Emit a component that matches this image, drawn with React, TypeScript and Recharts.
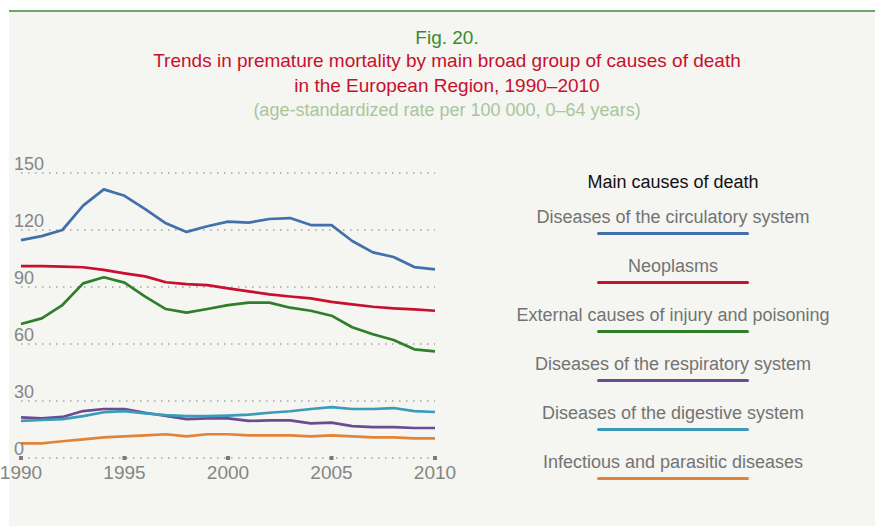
import { LineChart, Line, XAxis, YAxis, CartesianGrid, Legend } from 'recharts';

const years = [
  1990, 1991, 1992, 1993, 1994, 1995, 1996, 1997, 1998, 1999, 2000,
  2001, 2002, 2003, 2004, 2005, 2006, 2007, 2008, 2009, 2010,
];
const circulatory = [114.7, 116.8, 120, 132.8, 141.4, 138, 131, 123.5, 119, 122, 124.4, 123.9, 125.8, 126.3, 122.6, 122.6, 114.2, 108.2, 105.8, 100.5, 99.3];
const neoplasms = [101, 101, 100.7, 100.4, 99, 97.2, 95.6, 92.5, 91.5, 91, 89.3, 87.7, 86.1, 85, 84, 82.2, 80.9, 79.6, 78.8, 78.2, 77.5];
const external = [70.5, 73.5, 80.5, 91.9, 95.1, 92.3, 84.9, 78.4, 76.5, 78.4, 80.5, 81.8, 81.8, 79.1, 77.5, 74.9, 68.8, 65.1, 62.1, 57.2, 56.1];
const respiratory = [21.4, 20.9, 21.6, 24.7, 25.8, 25.8, 23.8, 22.1, 20.5, 20.9, 20.9, 19.5, 19.8, 19.8, 18.2, 18.6, 16.8, 16.3, 16.3, 15.8, 15.8];
const digestive = [19.5, 20, 20.5, 22, 24.1, 24.7, 23.5, 22.6, 22, 22, 22.3, 22.8, 23.8, 24.6, 25.8, 26.8, 25.8, 25.8, 26.3, 24.7, 24.2];
const infectious = [7.7, 7.7, 8.8, 9.8, 10.9, 11.4, 11.9, 12.5, 11.4, 12.5, 12.5, 11.9, 11.9, 11.9, 11.4, 11.9, 11.4, 10.9, 10.9, 10.3, 10.3];

const xTicks = [1990, 1995, 2000, 2005, 2010];
const yTicks = [0, 30, 60, 90, 120, 150];

const series = [
  { key: 'circulatory', label: 'Diseases of the circulatory system', color: '#4170ac', values: circulatory },
  { key: 'neoplasms', label: 'Neoplasms', color: '#c8102e', values: neoplasms },
  { key: 'external', label: 'External causes of injury and poisoning', color: '#2f7f2a', values: external },
  { key: 'respiratory', label: 'Diseases of the respiratory system', color: '#6b4c93', values: respiratory },
  { key: 'digestive', label: 'Diseases of the digestive system', color: '#3b9bb8', values: digestive },
  { key: 'infectious', label: 'Infectious and parasitic diseases', color: '#e1843a', values: infectious },
];

const rows = years.map((year, i) => {
  const row: Record<string, number> = { year };
  for (const s of series) row[s.key] = s.values[i];
  return row;
});

const FONT = "'Liberation Sans', Arial, sans-serif";
const GREY = '#858585';

function YTick({ x, y, payload }: any) {
  return (
    <text x={x - 7} y={y - 3} textAnchor="start" fontSize={18} fill={GREY} fontFamily={FONT}>
      {payload.value}
    </text>
  );
}

function XTick({ x, y, payload }: any) {
  return (
    <g>
      <rect x={x - 2} y={y - 2} width={4} height={4} fill="#7a7a7a" />
      <text x={x} y={y + 21} textAnchor="middle" fontSize={19} fill={GREY} fontFamily={FONT}>
        {payload.value}
      </text>
    </g>
  );
}

function CausesLegend() {
  return (
    <div style={{ width: 360, fontFamily: FONT, textAlign: 'center' }}>
      <div style={{ fontSize: 18, color: '#111', lineHeight: '22px', height: 35 }}>Main causes of death</div>
      {series.map((s) => (
        <div key={s.key} style={{ height: 49, position: 'relative' }}>
          <div style={{ fontSize: 18, color: '#737373', lineHeight: '22px', whiteSpace: 'nowrap' }}>{s.label}</div>
          <div
            style={{
              position: 'absolute',
              left: 104,
              top: 26,
              width: 152,
              height: 3,
              borderRadius: 2,
              background: s.color,
            }}
          />
        </div>
      ))}
    </div>
  );
}

export default function App() {
  return (
    <div style={{ position: 'absolute', left: 0, top: 0, width: 875, height: 526, background: '#fff', fontFamily: FONT }}>
      <div style={{ position: 'absolute', left: 9, top: 10, width: 866, height: 2, background: '#6aa56a' }} />
      <div style={{ position: 'absolute', left: 9, top: 12, width: 866, height: 514, background: '#f5f5f1' }} />
      <div style={{ position: 'absolute', left: 19, top: 0, width: 856, textAlign: 'center', whiteSpace: 'nowrap' }}>
        <div style={{ position: 'absolute', left: 0, right: 0, top: 26, lineHeight: '24px', fontSize: 19, color: '#3b8a2f' }}>
          Fig. 20.
        </div>
        <div style={{ position: 'absolute', left: 0, right: 0, top: 48, lineHeight: '25px', fontSize: 19, color: '#c8102e' }}>
          Trends in premature mortality by main broad group of causes of death
          <br />
          in the European Region, 1990–2010
        </div>
        <div style={{ position: 'absolute', left: 0, right: 0, top: 98, lineHeight: '24px', fontSize: 18, color: '#a9c59c' }}>
          (age-standardized rate per 100 000, 0–64 years)
        </div>
      </div>
      <div style={{ position: 'absolute', left: 0, top: 0 }}>
        <LineChart width={875} height={526} data={rows} margin={{ top: 173, right: 440, bottom: 38, left: 14 }}>
          <CartesianGrid vertical={false} stroke="#a3a3a3" strokeWidth={1.5} strokeDasharray="1.5 5.5" />
          <XAxis
            dataKey="year"
            type="number"
            domain={[1990, 2010]}
            ticks={xTicks}
            axisLine={false}
            tickLine={false}
            tickSize={0}
            tickMargin={0}
            height={30}
            tick={<XTick />}
            interval={0}
          />
          <YAxis
            domain={[0, 150]}
            ticks={yTicks}
            axisLine={false}
            tickLine={false}
            tickSize={0}
            tickMargin={0}
            width={7}
            tick={<YTick />}
            interval={0}
          />
          <Legend
            layout="vertical"
            align="center"
            verticalAlign="middle"
            content={<CausesLegend />}
            wrapperStyle={{ left: 493, top: 171, width: 360, height: 330 }}
          />
          {series.map((s) => (
            <Line
              key={s.key}
              type="linear"
              dataKey={s.key}
              name={s.label}
              stroke={s.color}
              strokeWidth={2.7}
              strokeLinejoin="round"
              dot={false}
              activeDot={false}
              isAnimationActive={false}
            />
          ))}
        </LineChart>
      </div>
    </div>
  );
}
